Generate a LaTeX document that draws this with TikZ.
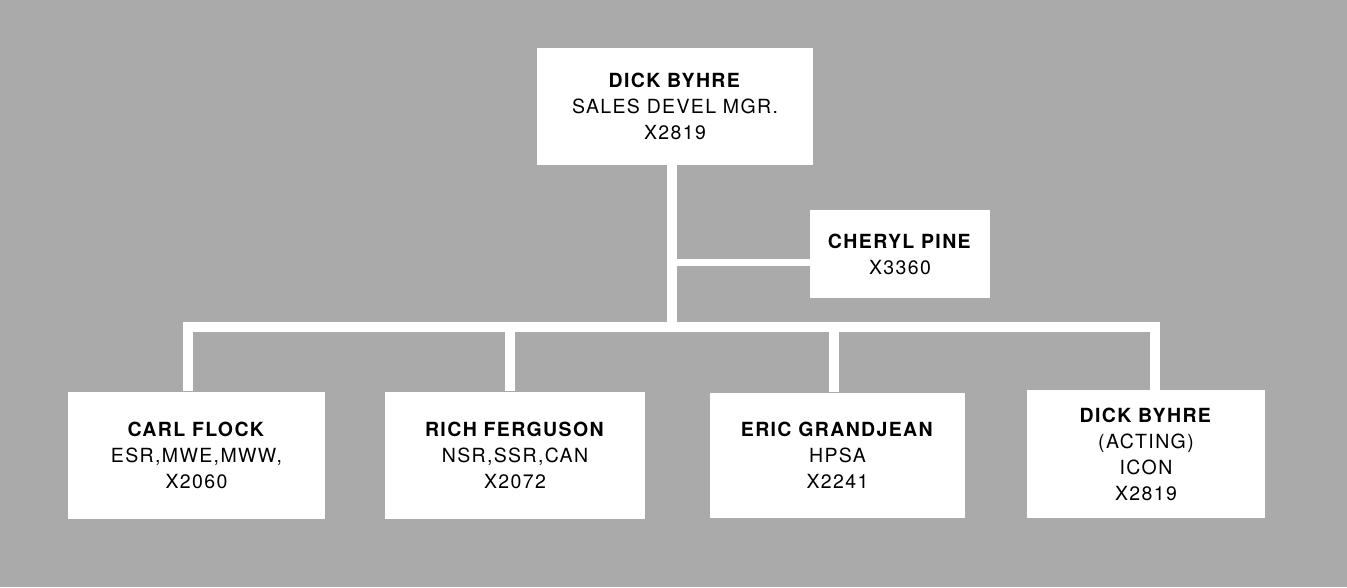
\documentclass[tikz,border=0pt]{standalone}
\usepackage{fontspec}
\setmainfont{TeX Gyre Heros}[LetterSpace=7]
\definecolor{bg}{RGB}{170,170,170}
\tikzset{
  person/.style={fill=white, inner sep=0pt, align=center, font=\fontsize{19.5}{26}\selectfont},
  link/.style={draw=white, line width=10pt},
}
\begin{document}
\begin{tikzpicture}[x=1pt,y=-1pt]
\fill[bg] (0,0) rectangle (1347,587);
\useasboundingbox (0,0) rectangle (1347,587);
% nodes
\node[person, minimum width=276pt, minimum height=117pt] (top) at (675,106) {\textbf{DICK BYHRE}\\SALES DEVEL MGR.\\X2819};
\node[person, minimum width=180pt, minimum height=88pt] (cheryl) at (900,254) {\textbf{CHERYL PINE}\\X3360};
\node[person, minimum width=257pt, minimum height=127pt] (carl) at (196.5,455) {\textbf{CARL FLOCK}\\ESR,MWE,MWW,\\X2060};
\node[person, minimum width=260pt, minimum height=127pt] (rich) at (515,455) {\textbf{RICH FERGUSON}\\NSR,SSR,CAN\\X2072};
\node[person, minimum width=255pt, minimum height=125pt] (eric) at (837.5,455) {\textbf{ERIC GRANDJEAN}\\HPSA\\X2241};
\node[person, minimum width=238pt, minimum height=128pt] (dick) at (1146,454) {\textbf{DICK BYHRE}\\(ACTING)\\ICON\\X2819};
% junctions
\coordinate (tj) at (672,327);
\coordinate (cj) at (672,262);
\coordinate (bl) at (188,327);
\coordinate (br) at (1155,327);
\coordinate (rj) at (510,327);
\coordinate (ej) at (834,327);
% connectors
\draw[link] (top.south -| tj) -- (tj);
\draw[link, line width=7pt] (cj) -- (cj -| cheryl.west);
\draw[link, line join=miter] (carl.north -| bl) -- (bl) -- (br) -- (dick.north -| br);
\draw[link] (rj) -- (rich.north -| rj);
\draw[link] (ej) -- (eric.north -| ej);
\end{tikzpicture}
\end{document}
